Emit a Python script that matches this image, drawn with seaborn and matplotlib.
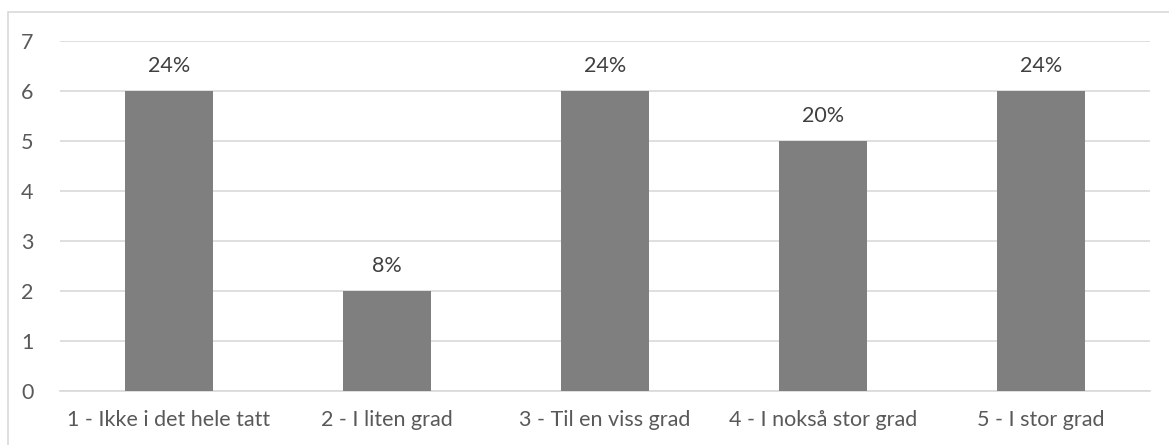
#!/usr/bin/env python3
# -*- coding: utf-8 -*-

import seaborn as sns
import matplotlib.pyplot as plt
import matplotlib.patches as patches
import pandas as pd

categories = ["1 - Ikke i det hele tatt", "2 - I liten grad", "3 - Til en viss grad",
              "4 - I nokså stor grad", "5 - I stor grad"]
counts = [6, 2, 6, 5, 6]
pct_labels = ["24%", "8%", "24%", "20%", "24%"]


def plot_bars(data, filename):
    sns.set_theme(style="white")
    plt.rcParams['font.family'] = ['Lato', 'DejaVu Sans']

    fig = plt.figure(figsize=(11.69, 4.45), dpi=100)
    ax = fig.add_axes([60 / 1169, 1 - 391 / 445, 1090 / 1169, 350 / 445])

    sns.barplot(data=data, x="cat", y="count", color="#7f7f7f", saturation=1,
                width=0.4, linewidth=0, ax=ax, zorder=3)

    for i, (v, lab) in enumerate(zip(data["count"], pct_labels)):
        ax.annotate(lab, (i, v), xytext=(0, 11), textcoords="offset points",
                    ha="center", va="bottom", fontsize=15.5, color="#404040")

    ax.set_ylim(0, 7)
    ax.set_yticks(range(0, 8))
    ax.yaxis.grid(True, color="#d9d9d9", linewidth=1.2, zorder=0)
    ax.set_axisbelow(True)
    ax.tick_params(axis="both", length=0, labelsize=15.5, labelcolor="#595959")
    ax.tick_params(axis="y", pad=19)
    ax.tick_params(axis="x", pad=14)
    ax.set_xlabel("")
    ax.set_ylabel("")
    for s in ["left", "right", "top"]:
        ax.spines[s].set_visible(False)
    ax.spines["bottom"].set_color("#d9d9d9")
    ax.spines["bottom"].set_linewidth(1.2)

    # chart border like the Excel chart area
    fig.patches.append(patches.Rectangle((8 / 1169, -0.1), 1.2, 1 - 12 / 445 + 0.1,
                                         transform=fig.transFigure, fill=False,
                                         edgecolor="#d9d9d9", linewidth=1.2))

    fig.savefig(filename, dpi=100)


if __name__ == '__main__':
    df = pd.DataFrame({"cat": categories, "count": counts})
    plot_bars(df, "out.png")
